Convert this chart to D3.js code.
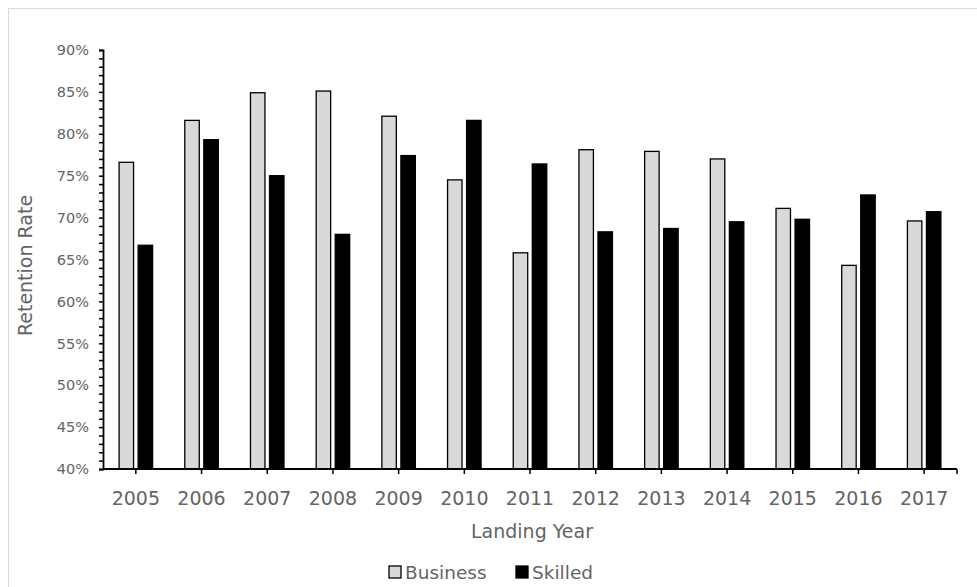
<!DOCTYPE html>
<html>
<head>
<meta charset="utf-8">
<script src="https://cdn.jsdelivr.net/npm/d3@7"></script>
<style>
  html, body { margin: 0; padding: 0; background: #fff; }
  svg { display: block; }
  text { font-family: "DejaVu Sans", Lato, sans-serif; fill: #646464; }
</style>
</head>
<body>
<svg id="chart" width="977" height="587"></svg>
<script>
const years = ["2005","2006","2007","2008","2009","2010","2011","2012","2013","2014","2015","2016","2017"];
const seriesNames = ["Business", "Skilled"];
const business = [76.6, 81.6, 84.9, 85.1, 82.1, 74.5, 65.8, 78.1, 77.9, 77.0, 71.1, 64.3, 69.6];
const skilled  = [66.7, 79.3, 75.0, 68.0, 77.4, 81.6, 76.4, 68.3, 68.7, 69.5, 69.8, 72.7, 70.7];
const yTicks = [40, 45, 50, 55, 60, 65, 70, 75, 80, 85, 90];
const seriesColors = ["#d9d9d9", "#000000"];
const xTitle = "Landing Year";
const yTitle = "Retention Rate";

const svg = d3.select("#chart");

// outer chart border
svg.append("rect").attr("x", 8.5).attr("y", 8.5).attr("width", 1000).attr("height", 1000)
  .attr("fill", "none").attr("stroke", "#d9d9d9").attr("stroke-width", 1);

const pLeft = 103, pRight = 957, pTop = 50, pBottom = 469;

const x0 = d3.scaleBand().domain(years).range([pLeft, pRight]).paddingInner(0).paddingOuter(0);
const x1 = d3.scaleBand().domain(seriesNames).range([-16.75, 16.75]).paddingInner(0.24);
const y = d3.scaleLinear().domain([40, 90]).range([pBottom, pTop]);

const data = years.map((yr, i) => ({ year: yr, values: [business[i], skilled[i]] }));

// bars
const groups = svg.append("g").selectAll("g").data(data).join("g")
  .attr("transform", d => `translate(${x0(d.year) + x0.bandwidth() / 2},0)`);
groups.selectAll("rect").data(d => d.values.map((v, k) => ({ k, v }))).join("rect")
  .attr("x", d => x1(seriesNames[d.k]))
  .attr("width", x1.bandwidth())
  .attr("y", d => y(d.v))
  .attr("height", d => y(40) - y(d.v))
  .attr("fill", d => seriesColors[d.k])
  .attr("stroke", "#000")
  .attr("stroke-width", 1.3);

// y axis with minor ticks every 1%
const yAxis = d3.axisLeft(y).tickValues(d3.range(40, 91, 1)).tickSize(4).tickFormat("");
const gy = svg.append("g").attr("transform", `translate(${pLeft},0)`).call(yAxis);
gy.select(".domain").attr("stroke", "#000").attr("stroke-width", 1.8);
gy.selectAll(".tick line").attr("stroke", "#000").attr("stroke-width", 1.5);

// y tick labels
svg.append("g").selectAll("text").data(yTicks).join("text")
  .attr("x", 89).attr("y", d => y(d)).attr("dy", "0.36em")
  .attr("text-anchor", "end").attr("font-size", 14.5)
  .text(d => d + "%");

// x axis line
svg.append("line").attr("x1", pLeft).attr("x2", pRight).attr("y1", pBottom).attr("y2", pBottom)
  .attr("stroke", "#000").attr("stroke-width", 1.8);
// x ticks at category centers plus end
const xTickPos = years.map(yr => x0(yr) + x0.bandwidth() / 2).concat([pRight]);
svg.append("g").selectAll("line").data(xTickPos).join("line")
  .attr("x1", d => d).attr("x2", d => d).attr("y1", pBottom).attr("y2", pBottom + 5)
  .attr("stroke", "#000").attr("stroke-width", 1.5);

// x tick labels
svg.append("g").selectAll("text").data(years).join("text")
  .attr("x", d => x0(d) + x0.bandwidth() / 2).attr("y", 505)
  .attr("text-anchor", "middle").attr("font-size", 19)
  .text(d => d);

// axis titles
svg.append("text").attr("x", (pLeft + pRight) / 2 + 2).attr("y", 538)
  .attr("text-anchor", "middle").attr("font-size", 19).text(xTitle);
svg.append("text").attr("transform", `translate(32,${(pTop + pBottom) / 2 + 6}) rotate(-90)`)
  .attr("text-anchor", "middle").attr("font-size", 19).text(yTitle);

// legend
const legendItems = [
  { name: seriesNames[0], color: seriesColors[0], bx: 389, tx: 405 },
  { name: seriesNames[1], color: seriesColors[1], bx: 516, tx: 532 }
];
const lg = svg.append("g");
lg.selectAll("rect").data(legendItems).join("rect")
  .attr("x", d => d.bx).attr("y", 566).attr("width", 12).attr("height", 12)
  .attr("fill", d => d.color).attr("stroke", "#000").attr("stroke-width", 1.3);
lg.selectAll("text").data(legendItems).join("text")
  .attr("x", d => d.tx).attr("y", 579).attr("font-size", 18.5).text(d => d.name);
</script>
</body>
</html>
